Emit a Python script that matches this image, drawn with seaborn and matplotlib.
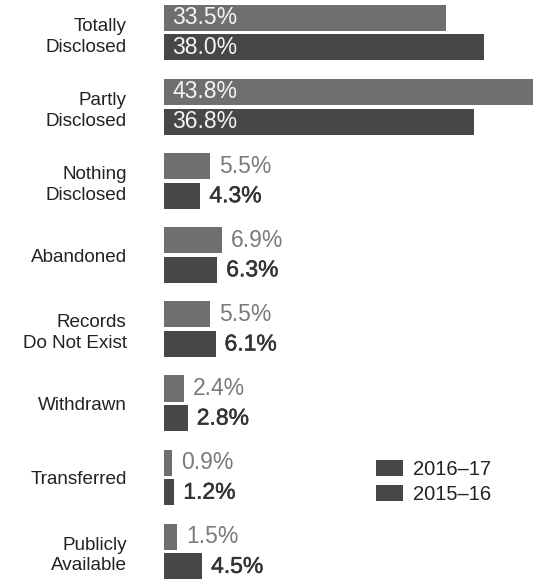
import matplotlib
matplotlib.use("Agg")
import matplotlib.pyplot as plt
import matplotlib.patheffects as pe
from matplotlib.patches import Patch
import pandas as pd
import seaborn as sns

# Share of requests by outcome, per reporting year
categories = [
    "Totally\nDisclosed",
    "Partly\nDisclosed",
    "Nothing\nDisclosed",
    "Abandoned",
    "Records\nDo Not Exist",
    "Withdrawn",
    "Transferred",
    "Publicly\nAvailable",
]
years = ["2016\u201317", "2015\u201316"]
values_2016_17 = [33.5, 43.8, 5.5, 6.9, 5.5, 2.4, 0.9, 1.5]
values_2015_16 = [38.0, 36.8, 4.3, 6.3, 6.1, 2.8, 1.2, 4.5]

df = pd.DataFrame({
    "outcome": categories * 2,
    "year": [years[0]] * len(categories) + [years[1]] * len(categories),
    "share": values_2016_17 + values_2015_16,
})

sns.set_theme(style="white")
plt.rcParams["font.family"] = ["Liberation Sans", "DejaVu Sans"]

light = "#6f6f6f"
dark = "#474747"

fig = plt.figure(figsize=(5.33, 5.79), dpi=100)
ax = fig.add_axes([0.308, 0.0, 0.692, 1.0])

sns.barplot(
    data=df, y="outcome", x="share", hue="year", hue_order=years,
    order=categories, orient="h", palette=[light, dark],
    width=0.8, gap=0.12, legend=False, ax=ax, saturation=1,
    edgecolor="none",
)

ax.set_xlim(0, max(values_2016_17 + values_2015_16))
ax.set_ylim(7.37, -0.44)
ax.set_xlabel("")
ax.set_ylabel("")
ax.set_xticks([])
sns.despine(ax=ax, left=True, bottom=True)
ax.tick_params(axis="y", length=0, pad=27, labelsize=13.6, labelcolor="#222222")
for lab in ax.get_yticklabels():
    lab.set_linespacing(1.3)
    lab.set_horizontalalignment("right")

# Value labels: inside the long bars, beside the short ones
heavier = [pe.withStroke(linewidth=0.35, foreground="#333333")]
label_styles = {
    years[0]: dict(color="#7a7a7a"),
    years[1]: dict(color="#333333", path_effects=heavier),
}
for container, year in zip(ax.containers, years):
    for patch in container.patches:
        val = patch.get_width()
        yc = patch.get_y() + patch.get_height() / 2
        if val >= 30:
            ax.annotate(f"{val:.1f}%", xy=(0, yc), xytext=(8, 0),
                        textcoords="offset pixels", va="center", ha="left",
                        fontsize=16.5, color="#f4f4f4")
        else:
            ax.annotate(f"{val:.1f}%", xy=(val, yc), xytext=(9, 0),
                        textcoords="offset pixels", va="center", ha="left",
                        fontsize=16.5, **label_styles[year])

handles = [Patch(facecolor=dark, edgecolor="none") for _ in years]
fig.legend(
    handles, years, loc="upper left", bbox_to_anchor=(0.672, 0.237),
    frameon=False, fontsize=14.5, handlelength=1.35, handleheight=0.8,
    handletextpad=0.45, labelspacing=0.3, labelcolor="#222222",
)

fig.savefig("out.png", dpi=100)
